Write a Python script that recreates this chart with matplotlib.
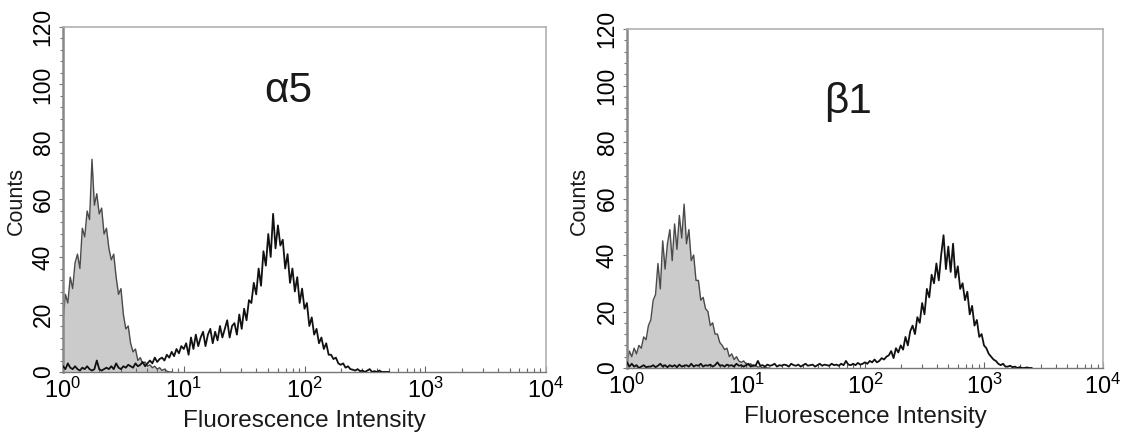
import numpy as np
import matplotlib
matplotlib.use("Agg")
import matplotlib.pyplot as plt
from matplotlib.ticker import FixedLocator, MultipleLocator, NullFormatter

plt.rcParams['font.family'] = ['Liberation Sans', 'DejaVu Sans']
plt.rcParams['mathtext.fontset'] = 'custom'
plt.rcParams['mathtext.rm'] = 'Liberation Sans'
plt.rcParams['mathtext.it'] = 'Liberation Sans'

# ---- data (counts per log-channel, channel step = 0.02 decade starting at 10^0) ----
channel_step = 0.02

alpha5_control = [18, 27, 24, 33, 29, 38, 41, 36, 50, 47, 56, 53, 74, 58, 62, 55, 57, 48, 50, 43,
                  39, 41, 33, 27, 29, 20, 15, 16, 10, 7, 8, 4, 5, 3, 3.5, 2, 2.5, 1.5, 2, 1,
                  1.5, 0.5, 1, 0.3, 0, 0]
alpha5_sample = [2, 1, 3, 1.5, 1, 2, 1, 0.5, 1.5, 1, 2, 1, 0.5, 1, 4, 1, 0.5, 1, 1.5, 1, 2, 1, 3, 1.5, 1, 2,
                 1.5, 2.5, 2, 1.5, 3, 2, 2.5, 3.5, 2, 3, 4, 3, 5, 3.5, 4.5,
                 5, 4, 6, 5, 7, 5.5, 8, 6.5, 9, 8,
                 10, 6, 12, 8, 13, 9, 12, 14, 9, 13, 15, 10, 14, 11, 16, 12, 15, 18, 12, 16,
                 17, 13, 20, 15, 22, 18, 25,
                 24, 31, 27, 36, 30, 42, 37, 48, 40,
                 55, 43, 51, 44,
                 46, 36, 41, 31, 36, 28, 33, 24, 29, 22,
                 24, 16, 19, 13, 15, 10, 12, 8, 10, 6,
                 6, 4.5, 5, 3, 2.5, 3, 1.5, 2, 1, 0.8,
                 0.5, 1, 0.3, 0.5, 0, 0.5, 1, 0, 0.3, 0, 0.5, 0, 0, 0, 0]

beta1_control = [2, 6, 4, 7, 5, 8, 7, 11, 10, 15,
                 17, 24, 26, 37, 28, 45, 35, 44, 49, 38,
                 51, 42, 54, 46, 58, 44, 49, 38, 40, 31,
                 31, 24, 25, 21, 20, 15, 16, 12, 12, 9,
                 8, 6.5, 7, 4, 5, 3, 4, 2.5, 2, 2.5,
                 1.5, 1, 1.5, 0.5, 1, 0.3, 0.5, 0, 0.3, 0, 0]
beta1_sample = [2, 0.5, 1.5, 0.5, 1, 0, 0.5, 1, 0.3, 0.5,
                0.5, 1, 0.3, 0.8, 1.5, 0.5, 1, 0.3, 1, 0.5,
                1, 0.3, 1.2, 0.5, 0.8, 1, 0.5, 1.5, 0.5, 1,
                0.8, 1.5, 0.5, 1, 0.8, 1.2, 0.5, 1, 2, 0.8,
                1, 0.5, 1.2, 0.8, 1, 0.5, 1.5, 0.8, 1, 0.5,
                1, 1.5, 0.5, 1, 0.8, 2.5, 0.8, 1, 0.5, 1.2,
                0.8, 1, 1.5, 0.5, 1, 0.8, 1.2, 1, 0.5, 1.5,
                1, 0.8, 1.2, 0.5, 1, 1.5, 0.8, 1, 1.2, 0.5,
                1, 1.5, 0.8, 1.2, 1, 0.8, 1.5, 1, 1.2, 0.8,
                1.5, 1, 2.5, 1.2, 1, 1.5, 1, 1.8, 1.2, 1.5,
                2, 1.5, 2.5, 2, 3, 2, 2.5, 3.5, 3, 4,
                4.5, 6, 3.5, 7, 5.5, 8, 6.5, 11, 8, 13,
                15, 12, 18, 16, 23, 19, 28, 25, 33, 30,
                37, 31, 40, 47, 35, 43, 34, 44, 32, 36,
                28, 30, 24, 27, 19, 22, 15, 17, 11, 12,
                8, 7, 5, 4, 3, 2.5, 1.5, 1, 1.5, 0.5,
                0.5, 0.8, 0.3, 0.5, 0, 0.3, 0, 0, 0.2, 0, 0]

panel_titles = ['α5', 'β1']
x_ticks = [1, 10, 100, 1000, 10000]
x_ticklabels = ['$10^{0}$', '$10^{1}$', '$10^{2}$', '$10^{3}$', '$10^{4}$']
y_ticks = [0, 20, 40, 60, 80, 100, 120]
x_label = 'Fluorescence Intensity'
y_label = 'Counts'


def channels(values):
    return 10 ** (np.arange(len(values)) * channel_step)


W, H = 1127, 438
fig = plt.figure(figsize=(W / 100, H / 100), dpi=100)

axes_px = [(63, 27, 546, 372), (627, 29, 1103, 368)]
panels = [(alpha5_control, alpha5_sample), (beta1_control, beta1_sample)]
title_pos = [(0.466, 0.783), (0.464, 0.752)]
ylabel_x = [16, 579]

for k, ((l, t, r, b), (ctrl, samp)) in enumerate(zip(axes_px, panels)):
    ax = fig.add_axes([l / W, 1 - b / H, (r - l) / W, (b - t) / H])
    xc = channels(ctrl)
    xs = channels(samp)
    ax.fill_between(xc, 0, ctrl, color='#cbcbcb', lw=0, zorder=1)
    ax.plot(xc, ctrl, color='#4a4a4a', lw=1.0, zorder=2)
    ax.plot(xs, samp, color='#111111', lw=1.3, zorder=3)

    ax.set_xscale('log')
    ax.set_xlim(1, 10000)
    ax.set_ylim(0, 120)
    ax.xaxis.set_major_locator(FixedLocator(x_ticks))
    ax.set_xticklabels(x_ticklabels, fontsize=17)
    ax.xaxis.set_minor_locator(FixedLocator(
        [m * 10 ** e for e in range(4) for m in range(2, 10)]))
    ax.xaxis.set_minor_formatter(NullFormatter())
    ax.tick_params(axis='x', which='both', direction='in', color='#666666', width=0.8)
    ax.tick_params(axis='x', which='major', length=4, pad=4)
    ax.tick_params(axis='x', which='minor', length=3)

    ax.set_yticks(y_ticks)
    ax.set_yticklabels([str(v) for v in y_ticks], rotation=90, va='center', fontsize=16.5)
    ax.yaxis.set_minor_locator(MultipleLocator(4))
    ax.tick_params(axis='y', which='both', direction='out', color='#777777', width=0.8)
    ax.tick_params(axis='y', which='major', length=3, pad=3)
    ax.tick_params(axis='y', which='minor', length=2)

    for side in ['top', 'right']:
        ax.spines[side].set_color('#b0b0b0')
        ax.spines[side].set_linewidth(1.2)
    ax.spines['bottom'].set_color('#777777')
    ax.spines['bottom'].set_linewidth(1.0)
    ax.spines['left'].set_color('#888888')
    ax.spines['left'].set_linewidth(1.8)

    ax.text(title_pos[k][0], title_pos[k][1], panel_titles[k], transform=ax.transAxes,
            ha='center', va='baseline', fontsize=30.5, color='#1a1a1a')

    ax.set_xlabel(x_label, fontsize=17.5, labelpad=5, color='#1a1a1a')
    fig.text(ylabel_x[k] / W, 1 - 201 / H, y_label, rotation=90, ha='center', va='center',
             fontsize=15.5, color='#1a1a1a')

fig.savefig('out.png', dpi=100)
